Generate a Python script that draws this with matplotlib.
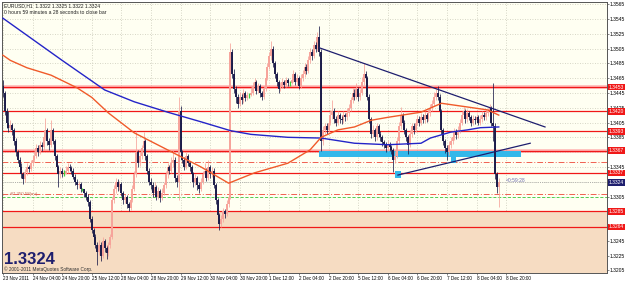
import matplotlib
matplotlib.use("Agg")
import matplotlib.pyplot as plt
import matplotlib.transforms as mtransforms
import numpy as np

plt.rcParams['font.family'] = ['Liberation Sans', 'DejaVu Sans']

# EURUSD H1 candles, prices given as pips above 1.3000
first_open = 455
close = [445, 420, 405, 398, 402, 395, 380, 365, 355, 345, 335, 328, 338, 345, 342, 350,
         355, 360, 370, 365, 375, 372, 385, 395, 380, 375, 395, 380, 360, 345, 335, 340,
         336, 336, 340, 345, 343, 340, 332, 325, 320, 322, 315, 315, 310, 305, 298, 275,
         260, 250, 240, 230, 240, 225, 245, 235, 228, 240, 250, 300, 315, 325, 318, 322,
         310, 300, 305, 295, 290, 300, 315, 335, 365, 350, 360, 370, 380, 360, 340, 325,
         320, 310, 318, 305, 312, 303, 310, 320, 335, 345, 340, 350, 355, 330, 325, 420,
         365, 355, 345, 360, 350, 345, 335, 325, 330, 320, 315, 325, 335, 340, 330, 345,
         335, 340, 320, 300, 280, 268, 275, 285, 282, 295, 305, 500, 470, 450, 440, 430,
         440, 435, 445, 438, 442, 442, 445, 455, 460, 448, 455, 445, 440, 450, 465, 480,
         495, 505, 485, 470, 460, 450, 455, 460, 456, 462, 458, 458, 463, 470, 460, 465,
         455, 465, 470, 480, 475, 490, 500, 495, 510, 505, 520, 500, 380, 395, 400, 395,
         405, 415, 420, 410, 405, 415, 410, 408, 415, 412, 418, 425, 435, 445, 440, 450,
         440, 445, 460, 470, 465, 440, 410, 390, 395, 385, 400, 390, 385, 378, 375, 370,
         376, 372, 368, 355, 360, 380, 400, 415, 405, 395, 385, 375, 390, 400, 395, 405,
         410, 405, 412, 408, 415, 410, 418, 425, 430, 440, 445, 440, 420, 395, 380, 370,
         365, 375, 380, 385, 392, 388, 395, 405, 415, 420, 410, 418, 412, 405, 410, 408,
         412, 405, 410, 415, 412, 418, 420, 425, 405, 400, 335, 318, 324]
high = [462, 448, 424, 420, 408, 405, 398, 384, 368, 358, 350, 338, 342, 350, 348, 354,
        360, 366, 376, 374, 380, 378, 390, 411, 398, 384, 408, 398, 383, 363, 348, 345,
        343, 341, 346, 350, 349, 346, 343, 335, 328, 326, 325, 317, 315, 313, 308, 300,
        278, 263, 254, 243, 246, 243, 250, 248, 238, 244, 254, 305, 320, 330, 328, 326,
        324, 313, 309, 307, 298, 304, 320, 340, 393, 368, 365, 375, 392, 383, 363, 343,
        330, 324, 325, 321, 318, 315, 316, 325, 340, 350, 348, 358, 368, 358, 334, 440,
        428, 368, 358, 365, 363, 353, 348, 338, 336, 333, 324, 330, 340, 350, 344, 355,
        348, 345, 343, 323, 303, 283, 280, 290, 288, 300, 312, 512, 505, 478, 455, 443,
        446, 444, 450, 448, 446, 445, 453, 460, 465, 463, 459, 457, 448, 455, 470, 486,
        500, 515, 508, 488, 473, 463, 460, 465, 463, 466, 465, 461, 468, 476, 473, 470,
        468, 470, 476, 485, 484, 495, 506, 505, 515, 514, 528, 535, 505, 400, 405, 404,
        410, 422, 436, 424, 414, 420, 418, 414, 420, 418, 424, 430, 440, 452, 450, 458,
        453, 450, 466, 485, 474, 468, 443, 413, 402, 398, 405, 403, 393, 388, 381, 379,
        381, 379, 375, 370, 366, 386, 406, 426, 418, 408, 398, 388, 395, 405, 404, 410,
        415, 414, 418, 416, 420, 418, 423, 430, 436, 446, 450, 455, 443, 423, 398, 383,
        374, 380, 386, 390, 397, 396, 400, 410, 420, 426, 423, 423, 421, 415, 415, 414,
        417, 415, 415, 420, 419, 423, 425, 430, 428, 458, 405, 338, 330]
low = [440, 415, 398, 392, 394, 388, 375, 360, 350, 340, 330, 322, 325, 334, 338, 340,
       346, 352, 357, 360, 362, 366, 368, 382, 375, 368, 372, 376, 355, 340, 318, 330,
       332, 333, 335, 337, 339, 336, 328, 320, 315, 316, 311, 312, 305, 300, 292, 270,
       255, 244, 235, 213, 226, 218, 222, 230, 220, 225, 236, 248, 296, 310, 313, 314,
       306, 295, 296, 290, 285, 287, 298, 312, 332, 345, 346, 356, 366, 355, 335, 320,
       315, 305, 306, 300, 302, 298, 300, 307, 316, 330, 335, 337, 345, 325, 318, 300,
       360, 350, 341, 342, 346, 340, 330, 318, 321, 314, 310, 312, 322, 331, 326, 327,
       330, 331, 316, 295, 275, 260, 264, 271, 276, 279, 291, 302, 465, 445, 432, 425,
       427, 430, 432, 434, 435, 438, 441, 442, 451, 444, 445, 440, 435, 437, 447, 462,
       477, 490, 480, 465, 455, 445, 447, 452, 452, 453, 454, 455, 457, 460, 456, 456,
       450, 452, 461, 467, 470, 472, 486, 489, 492, 500, 502, 495, 366, 375, 390, 390,
       392, 402, 410, 405, 400, 402, 405, 403, 405, 407, 409, 414, 421, 431, 436, 437,
       434, 436, 442, 456, 460, 435, 405, 384, 386, 380, 382, 385, 380, 373, 370, 365,
       366, 367, 363, 338, 350, 357, 376, 396, 400, 390, 380, 362, 372, 386, 390, 392,
       401, 400, 402, 404, 405, 406, 407, 414, 421, 427, 436, 435, 415, 390, 374, 364,
       355, 361, 371, 376, 381, 383, 384, 391, 401, 411, 405, 406, 408, 400, 401, 403,
       404, 401, 401, 406, 408, 408, 414, 416, 400, 380, 328, 310, 291]

# moving averages at a few bars (bar index, pips)
ma_blue_bar = [0, 32, 55, 71, 89, 107, 123, 134, 154, 172, 190, 208, 226, 231, 242, 251, 258, 268]
ma_blue_val = [546, 489, 449, 433, 419, 406, 394, 389, 385, 384, 377, 375, 377, 384, 392, 395, 398, 399]
ma_red_bar = [0, 4, 13, 26, 40, 48, 57, 71, 89, 107, 122, 136, 154, 166, 172, 181, 190, 199,
              208, 226, 237, 251, 262, 268]
ma_red_val = [496, 489, 479, 469, 452, 439, 418, 391, 368, 345, 323, 337, 350, 368, 385, 395,
              399, 408, 412, 419, 431, 426, 422, 415]

# horizontal levels drawn on the chart
levels = [1.3453, 1.3420, 1.3393, 1.3367, 1.3337, 1.3285, 1.3264]
glow_levels = [1.3453, 1.3367]
dashdot_levels = [1.3352, 1.3308]
green_level = 1.3304
bid = 1.3324
zone_top = 1.3285

# trend lines (bar, price)
down_bars = [171, 293]
down_prices = [1.3506, 1.3399]
up_bars = [213.5, 285]
up_prices = [1.3334, 1.3377]

# cyan boxes (bar0, bar1, price0, price1)
boxes = [(171, 280, 1.3358, 1.3367), (212, 215, 1.3330, 1.3340), (242, 245, 1.3350, 1.3358)]

time_labels = ["23 Nov 2011", "24 Nov 04:00", "24 Nov 20:00", "25 Nov 12:00", "28 Nov 04:00",
               "28 Nov 20:00", "29 Nov 12:00", "30 Nov 04:00", "30 Nov 20:00", "1 Dec 12:00",
               "2 Dec 04:00", "2 Dec 20:00", "5 Dec 12:00", "6 Dec 04:00", "6 Dec 20:00",
               "7 Dec 12:00", "8 Dec 04:00", "8 Dec 20:00"]
price_ticks = [1.3205, 1.3225, 1.3245, 1.3265, 1.3285, 1.3305, 1.3325, 1.3345, 1.3365, 1.3385,
               1.3405, 1.3425, 1.3445, 1.3465, 1.3485, 1.3505, 1.3525, 1.3545, 1.3565]

bull_col = "#f7a39a"
bear_col = "#1c1c4a"
doji_col = "#40d040"
navy = "#1e1e6e"

c = 1.3 + np.array(close) / 10000.0
h = 1.3 + np.array(high) / 10000.0
l = 1.3 + np.array(low) / 10000.0
o = np.concatenate([[1.3 + first_open / 10000.0], c[:-1]])
idx = np.arange(len(c))

y_bottom, y_top = 1.32016, 1.35679

fig = plt.figure(figsize=(6.25, 2.82), dpi=100, facecolor="white")
ax = fig.add_axes([2 / 625, 9 / 282, 605 / 625, 271 / 282])
ax.set_facecolor("#fffff2")
ax.set_xlim(-0.5, 326.5)
ax.set_ylim(y_bottom, y_top)

# grid
for k in range(len(time_labels)):
    ax.axvline(16 * k, color="#c9c9b8", lw=0.6, ls=(0, (1, 2)), zorder=0.3)
for p in price_ticks:
    ax.axhline(p, color="#c9c9b8", lw=0.6, ls=(0, (1, 2)), zorder=0.3)

# shaded zone under the lowest resistance
ax.axhspan(y_bottom, zone_top, color="#f6dcc2", zorder=0.4, lw=0)

# horizontal levels
for p in glow_levels:
    ax.axhline(p, color="#ff9a9a", lw=2.6, alpha=0.7, zorder=1)
for p in levels:
    ax.axhline(p, color="#f01818", lw=0.9, zorder=1.1)
for p in dashdot_levels:
    ax.axhline(p, color="#f06050", lw=0.7, ls=(0, (6, 2, 1, 2)), zorder=1.1)
ax.axhline(green_level, color="#50d050", lw=0.7, ls=(0, (3, 2)), zorder=1.1)
ax.axhline(bid, color="#a0a0a0", lw=0.6, ls=(0, (1, 1.5)), zorder=1.1)

# cyan boxes
for b0, b1, p0, p1 in boxes:
    ax.fill_between([b0, b1], p0, p1, color="#33b8ea", lw=0, zorder=1.5)

# candles
bull = c > o
bear = c < o
doji = c == o
ax.vlines(idx[bull], l[bull], h[bull], color=bull_col, lw=0.55, zorder=2)
ax.vlines(idx[bull], o[bull], c[bull], color=bull_col, lw=1.4, zorder=2)
ax.vlines(idx[bear], l[bear], h[bear], color=bear_col, lw=0.55, zorder=2)
ax.vlines(idx[bear], c[bear], o[bear], color=bear_col, lw=1.4, zorder=2)
ax.vlines(idx[doji], l[doji], h[doji], color=doji_col, lw=0.9, zorder=2)

# moving averages
ax.plot(ma_blue_bar, 1.3 + np.array(ma_blue_val) / 10000.0, color="#2424c8", lw=1.0, zorder=3)
ax.plot(ma_red_bar, 1.3 + np.array(ma_red_val) / 10000.0, color="#f05a2a", lw=1.0, zorder=3)

# trend lines
ax.plot(down_bars, down_prices, color=navy, lw=0.9, zorder=3)
ax.plot(up_bars, up_prices, color=navy, lw=0.9, zorder=3)

# axes look
for s in ax.spines.values():
    s.set_color("#555555")
    s.set_linewidth(0.7)
ax.yaxis.tick_right()
ax.set_yticks(price_ticks)
ax.set_yticklabels(["%.4f" % p for p in price_ticks], fontsize=3.6, ha="left")
ax.set_xticks([16 * k for k in range(len(time_labels))])
ax.set_xticklabels(time_labels, fontsize=3.3, ha="left")
ax.tick_params(axis="both", length=1.2, width=0.5, pad=0.6, color="#555555")

# price tags on the right
trans = mtransforms.blended_transform_factory(ax.transAxes, ax.transData)
for p in levels:
    ax.text(1.003, p, "%.4f" % p, transform=trans, fontsize=3.6, color="white", va="center",
            ha="left", bbox=dict(boxstyle="square,pad=0.15", fc="#f01818", ec="none"), zorder=5,
            clip_on=False)
ax.text(1.003, bid, "%.4f" % bid, transform=trans, fontsize=3.6, color="white", va="center",
        ha="left", bbox=dict(boxstyle="square,pad=0.15", fc=navy, ec="none"), zorder=5,
        clip_on=False)

# texts
fig.text(4 / 625, 1 - 6 / 282, "EURUSD,H1  1.3322 1.3325 1.3322 1.3324", fontsize=3.6,
         va="center", color="#202020")
fig.text(4 / 625, 1 - 12 / 282, "0 hours 59 minutes a 28 seconds to close bar", fontsize=3.6,
         va="center", color="#202020")
ax.text(272, 1.3327, "<0:59:28", fontsize=3.6, color="#7070b0", va="center")
ax.text(3, 1.3309, "+87.350.58(ev)", fontsize=3.2, color="#c06050", va="center")
fig.text(4 / 625, 1 - 260 / 282, "%.4f" % bid, fontsize=12, fontweight="bold", color=navy,
         va="center")
fig.text(4 / 625, 1 - 269.5 / 282, "\u00a9 2001-2011 MetaQuotes Software Corp.", fontsize=3.4,
         va="center", color="#303030")

fig.savefig("out.png", dpi=100)
